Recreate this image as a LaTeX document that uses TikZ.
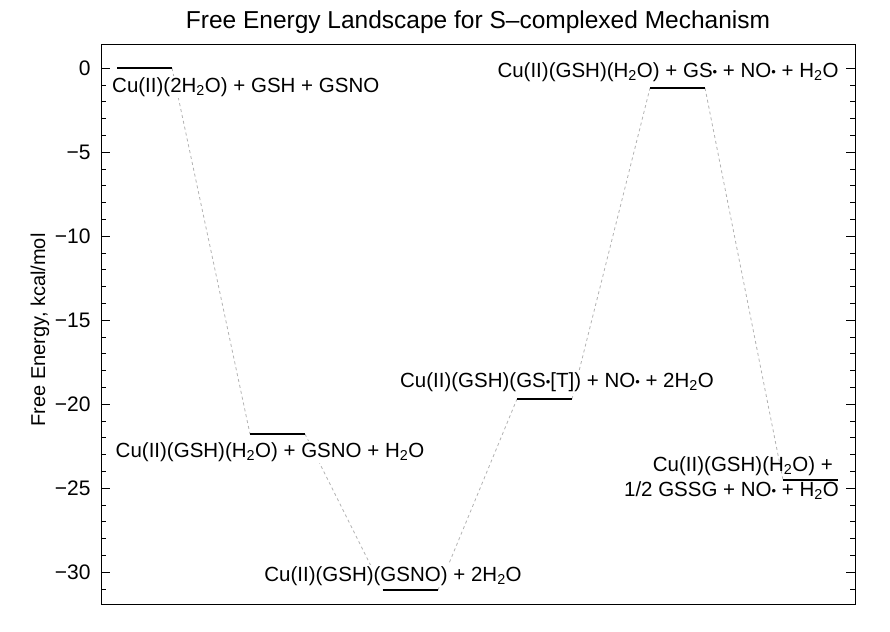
\documentclass[tikz,border=0pt]{standalone}
\usepackage{fontspec}
\setmainfont{Liberation Sans}
\newcommand{\sub}[1]{\textsubscript{#1}}
\newcommand{\mneg}{\char"2212\relax}
\newcommand{\bul}{{\fontsize{13}{13}\selectfont\raisebox{0.15ex}{•}}}
\begin{document}
\begin{tikzpicture}[x=1pt,y=-1pt,
  lvl/.style={line width=1.8pt},
  conn/.style={gray!60,dash pattern=on 3pt off 3pt,line width=0.8pt},
  lab/.style={font=\fontsize{20.5}{23}\selectfont,fill=white,inner sep=1pt},
  tick/.style={font=\fontsize{21}{23}\selectfont}]
\useasboundingbox (0,0) rectangle (890,631);
\node[font=\fontsize{24.5}{26}\selectfont] (title) at (478,22) {Free Energy Landscape for S\char"2013\relax complexed Mechanism};
\node[font=\fontsize{20}{22}\selectfont,rotate=90] (ylab) at (40,330) {Free Energy, kcal/mol};
% ticks
\foreach \v in {0,...,31}{
  \pgfmathsetmacro{\yy}{68+16.8*\v}
  \draw (101,\yy) -- (106,\yy);
  \draw (855,\yy) -- (850,\yy);
}
\foreach \v in {0,5,...,30}{
  \pgfmathsetmacro{\yy}{68+16.8*\v}
  \draw[line width=0.8pt] (101,\yy) -- (110,\yy);
  \draw[line width=0.8pt] (855,\yy) -- (846,\yy);
  \node[tick,anchor=east] at (94,\yy) {\ifnum\v=0 0\else\mneg\v\fi};
}
% levels
\coordinate (a1) at (117,68); \coordinate (a2) at (172,68);
\coordinate (b1) at (250,434); \coordinate (b2) at (305,434);
\coordinate (c1) at (383,590); \coordinate (c2) at (438,590);
\coordinate (d1) at (517,399); \coordinate (d2) at (572,399);
\coordinate (e1) at (650,88); \coordinate (e2) at (705,88);
\coordinate (f1) at (783,480); \coordinate (f2) at (838,480);
\draw[conn] (a2) -- (b1);
\draw[conn] (b2) -- (c1);
\draw[conn] (c2) -- (d1);
\draw[conn] (d2) -- (e1);
\draw[conn] (e2) -- (f1);
\node[lab,anchor=west] (la) at (111,87) {Cu(II)(2H\sub{2}O) + GSH + GSNO};
\node[lab] (lb) at (270,452) {Cu(II)(GSH)(H\sub{2}O) + GSNO + H\sub{2}O};
\node[lab] (lc) at (393,576) {Cu(II)(GSH)(GSNO) + 2H\sub{2}O};
\node[lab] (ld) at (557,382) {Cu(II)(GSH)(GS\bul[T]) + NO\bul{} + 2H\sub{2}O};
\node[lab] (le) at (668,72) {Cu(II)(GSH)(H\sub{2}O) + GS\bul{} + NO\bul{} + H\sub{2}O};
\node[lab,anchor=east,fill=none] (lf1) at (834,466) {Cu(II)(GSH)(H\sub{2}O) +};
\node[lab,anchor=east,fill=none] (lf2) at (840,491) {1/2 GSSG + NO\bul{} + H\sub{2}O};
\foreach \p/\q in {a1/a2,b1/b2,c1/c2,d1/d2,e1/e2,f1/f2}
  \draw[lvl] (\p) -- (\q);
\draw[line width=1pt] (101,45) rectangle (855,604);
\end{tikzpicture}
\end{document}
